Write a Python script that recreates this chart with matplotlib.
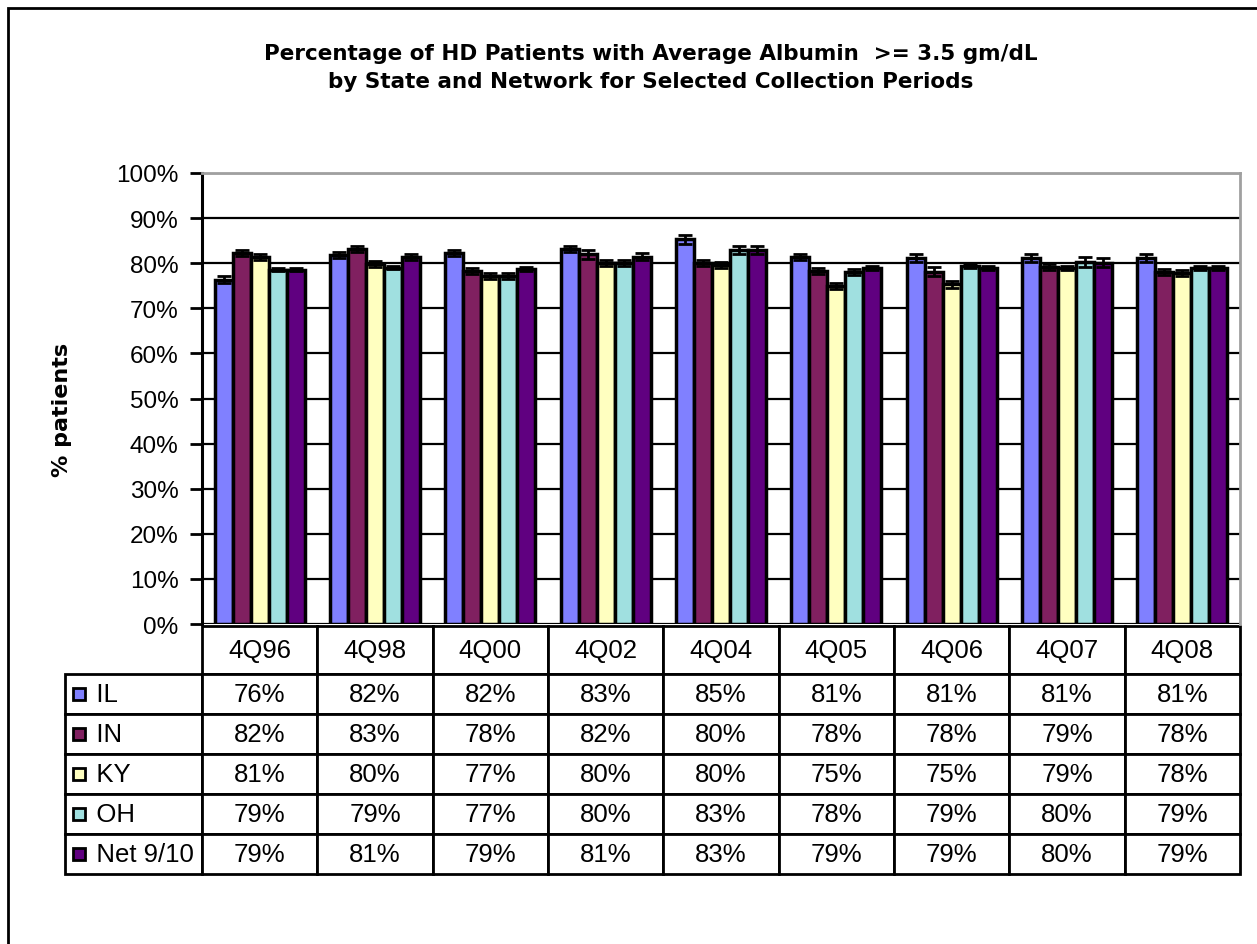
import matplotlib.pyplot as plt
import numpy as np
from matplotlib.patches import Rectangle
from matplotlib.table import Table

plt.rcParams['font.family'] = ['Liberation Sans', 'DejaVu Sans']

periods = ["4Q96", "4Q98", "4Q00", "4Q02", "4Q04", "4Q05", "4Q06", "4Q07", "4Q08"]
series = ["IL", "IN", "KY", "OH", "Net 9/10"]
colors = ["#8080FF", "#802060", "#FFFFC0", "#A0E0E0", "#600080"]

# bar heights (%)
il = [76.3, 81.8, 82.3, 83.1, 85.3, 81.3, 81.2, 81.2, 81.2]
ind = [82.3, 83.1, 78.3, 82.0, 80.0, 78.3, 78.1, 79.1, 78.1]
ky = [81.3, 79.8, 77.2, 80.0, 79.6, 75.0, 75.3, 78.9, 77.8]
oh = [78.6, 79.0, 77.2, 80.0, 83.0, 78.1, 79.4, 80.3, 79.0]
net = [78.6, 81.3, 78.7, 81.4, 83.0, 78.9, 79.0, 80.1, 79.0]

# error bar half widths (%)
il_err = [0.8, 0.7, 0.7, 0.7, 1.0, 0.7, 0.9, 0.9, 0.9]
ind_err = [0.7, 0.7, 0.7, 1.0, 0.7, 0.7, 1.0, 0.7, 0.7]
ky_err = [0.7, 0.7, 0.7, 0.7, 0.7, 0.7, 0.8, 0.4, 0.7]
oh_err = [0.3, 0.3, 0.7, 0.7, 0.9, 0.7, 0.4, 1.1, 0.4]
net_err = [0.3, 0.7, 0.4, 0.8, 0.9, 0.4, 0.4, 1.0, 0.4]

values = [il, ind, ky, oh, net]
errors = [il_err, ind_err, ky_err, oh_err, net_err]

fig = plt.figure(figsize=(12.57, 9.45), dpi=100)
ax = fig.add_axes([202/1257, 1-625/945, 1038/1257, 451/945])

x = np.arange(len(periods))
bw = 0.156
for i in range(len(series)):
    pos = x + (i - 2) * bw
    ax.bar(pos, values[i], bw, color=colors[i], edgecolor='black', linewidth=2.5, zorder=3)
    ax.errorbar(pos, values[i], yerr=errors[i], fmt='none', ecolor='black',
                elinewidth=2, capsize=5, capthick=2, zorder=4)

ax.set_xlim(-0.5, len(periods) - 0.5)
ax.set_ylim(0, 100)
ax.set_yticks(range(0, 101, 10))
ax.set_yticklabels([f"{t}%" for t in range(0, 101, 10)], fontsize=17.5)
ax.tick_params(axis='y', direction='out', length=9, width=2, pad=8)
ax.set_xticks([])
ax.yaxis.grid(True, color='black', linewidth=1.6, zorder=0)
ax.set_axisbelow(True)
ax.spines['left'].set_linewidth(2.2)
ax.spines['left'].set_color('black')
for s in ['top', 'right']:
    ax.spines[s].set_color('#A0A0A0')
    ax.spines[s].set_linewidth(2)
ax.spines['bottom'].set_visible(False)

# data table under the plot (bbox covers the value grid, row labels sit to its left)
tbl = Table(ax, bbox=[0, -250/451, 1, 248/451])
cw, rh = 1 / len(periods), 1.0
for j, p in enumerate(periods):
    tbl.add_cell(0, j, cw, rh * 48 / 40, text=p, loc='center')
for i, s in enumerate(series):
    lab = tbl.add_cell(i + 1, -1, cw * 137 / 115.3, rh, text="   " + s, loc='left')
    lab.PAD = 0.073
    for j in range(len(periods)):
        tbl.add_cell(i + 1, j, cw, rh, text=f"{round(values[i][j])}%", loc='center')
tbl.auto_set_font_size(False)
tbl.set_fontsize(18.5)
for cell in tbl.get_celld().values():
    cell.set_linewidth(2)
ax.add_table(tbl)

fig.canvas.draw()
for i in range(len(series)):
    cell = tbl[i + 1, -1]
    cx, cy, ch = cell.get_x(), cell.get_y(), cell.get_height()
    sq_w, sq_h = 12/1038, 12/451
    ax.add_patch(Rectangle((cx + 8/1038, cy + ch/2 - sq_h/2), sq_w, sq_h,
                           facecolor=colors[i], edgecolor='black', linewidth=2,
                           transform=ax.transAxes, clip_on=False, zorder=5))

fig.text(651/1257, 1-68/945,
         "Percentage of HD Patients with Average Albumin  >= 3.5 gm/dL\nby State and Network for Selected Collection Periods",
         ha='center', va='center', fontsize=15.5, fontweight='bold', linespacing=1.55,
         family='DejaVu Sans')
fig.text(62/1257, 1-410/945, "% patients", rotation=90, ha='center', va='center',
         fontsize=16, fontweight='bold', family='DejaVu Sans')

fig.patches.append(Rectangle((8/1257, -0.1), 1.2, 1.1 - 9/945, fill=False,
                             edgecolor='black', linewidth=2, transform=fig.transFigure))

fig.savefig("out.png", dpi=100)
